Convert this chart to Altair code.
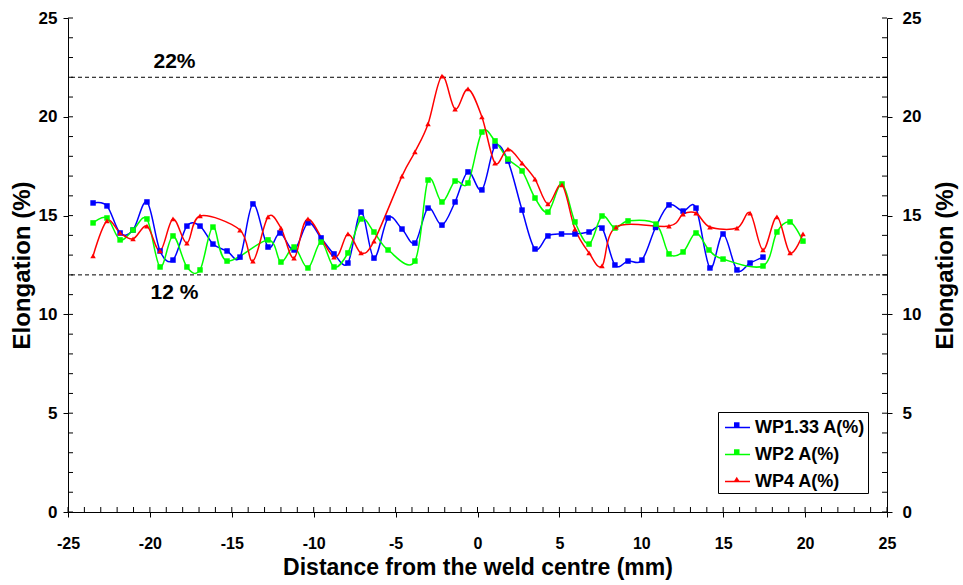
import altair as alt
import pandas as pd

FONT = "Liberation Sans, Arial, sans-serif"

series_names = ["WP1.33 A(%)", "WP2 A(%)", "WP4 A(%)"]
colors = ["#0000FF", "#00FF00", "#FF0000"]
shapes = ["square", "square", "triangle-up"]

blue_x = [-23.47, -22.62, -21.82, -21.03, -20.18, -19.38, -18.59, -17.74, -16.94, -16.15,
          -15.29, -14.50, -13.71, -12.79, -12.06, -11.20, -10.35, -9.55, -8.76, -7.91,
          -7.11, -6.32, -5.46, -4.61, -3.82, -3.02, -2.17, -1.37, -0.58, 0.27,
          1.07, 1.86, 2.72, 3.51, 4.30, 5.13, 5.95, 6.81, 7.60, 8.39,
          9.19, 10.04, 10.87, 11.69, 12.55, 13.34, 14.19, 14.99, 15.84, 16.64, 17.43]
blue_y = [15.64, 15.49, 14.12, 14.27, 15.69, 13.21, 12.75, 14.47, 14.47, 13.56,
          13.21, 12.90, 15.59, 13.41, 14.12, 13.26, 14.63, 13.87, 13.06, 12.60,
          15.18, 12.85, 14.88, 14.32, 13.61, 15.38, 14.52, 15.69, 17.21, 16.30,
          18.52, 17.76, 15.28, 13.31, 13.97, 14.07, 14.07, 14.17, 14.37, 12.50,
          12.70, 12.75, 14.40, 15.54, 15.23, 15.38, 12.35, 14.07, 12.25, 12.60, 12.90]

green_x = [-23.47, -22.62, -21.82, -21.03, -20.18, -19.38, -18.59, -17.74, -16.94, -16.15,
           -15.29, -12.79, -12.00, -11.20, -10.35, -9.55, -8.76, -7.91, -7.11, -6.32,
           -5.46, -3.82, -3.02, -2.17, -1.37, -0.58, 0.27, 1.07, 1.86, 2.72,
           3.51, 4.30, 5.16, 5.95, 6.81, 7.60, 8.39, 9.19, 10.90, 11.69,
           12.55, 13.34, 14.13, 14.99, 17.43, 18.28, 19.08, 19.87]
green_y = [14.63, 14.88, 13.77, 14.27, 14.83, 12.40, 13.97, 12.40, 12.25, 14.42,
           12.70, 13.77, 12.65, 13.41, 12.35, 13.66, 12.40, 13.11, 14.83, 14.17,
           13.26, 12.70, 16.80, 15.69, 16.75, 16.65, 19.23, 18.78, 17.86, 17.26,
           15.89, 15.18, 16.60, 14.68, 13.56, 14.98, 14.37, 14.73, 14.57, 13.06,
           13.16, 14.12, 13.26, 12.80, 12.45, 14.17, 14.68, 13.71]

red_x = [-23.47, -22.62, -21.82, -21.03, -20.18, -19.38, -18.59, -17.74, -16.94, -14.50,
         -13.71, -12.79, -12.00, -11.20, -10.35, -8.76, -7.91, -7.11, -6.32, -4.61,
         -3.82, -3.02, -2.17, -1.37, -0.58, 0.27, 1.07, 1.86, 2.72, 3.51,
         4.30, 5.16, 5.95, 6.81, 7.60, 8.46, 11.69, 12.55, 13.34, 14.19,
         15.84, 16.64, 17.43, 18.28, 19.08, 19.87]
red_y = [12.96, 14.73, 14.12, 13.82, 14.47, 13.21, 14.83, 13.61, 14.98, 14.27,
         12.70, 14.93, 14.37, 12.85, 14.83, 12.90, 14.07, 13.11, 13.71, 17.00,
         18.22, 19.64, 22.06, 20.39, 21.41, 19.99, 17.66, 18.37, 17.66, 16.85,
         15.59, 16.55, 14.32, 13.11, 12.45, 14.42, 14.47, 15.08, 15.13, 14.42,
         14.37, 15.13, 13.26, 14.93, 13.11, 14.07]

x_major = [-25, -20, -15, -10, -5, 0, 5, 10, 15, 20, 25]
y_major = [0, 5, 10, 15, 20, 25]
x_minor = list(range(-25, 26))
y_minor = list(range(0, 26))

ref_levels = [22, 12]
ref_labels = ["22%", "12 %"]
ref_label_x = -18.5

W, H = 819, 494

rows = []
for name, xs, ys in zip(series_names, [blue_x, green_x, red_x], [blue_y, green_y, red_y]):
    for a, b in zip(xs, ys):
        rows.append({"x": a, "y": b, "series": name})
df = pd.DataFrame(rows)

xscale = alt.Scale(domain=[-25, 25], nice=False, zero=False)
yscale = alt.Scale(domain=[0, 25], nice=False, zero=False)

common_axis = dict(
    grid=False, domainColor="black", tickColor="black", labelColor="black",
    titleColor="black", labelFont=FONT, titleFont=FONT, labelFontWeight="bold",
    titleFontWeight="bold", tickSize=5,
    domainWidth=1, tickWidth=1, labelFlush=False, labelOverlap=False,
    labelExpr="'' + datum.value",
)

x_axis = alt.Axis(values=x_major, title="Distance from the weld centre (mm)",
                  labelFontSize=16, titleFontSize=23,
                  labelPadding=18, titlePadding=5, **common_axis)
y_axis_left = alt.Axis(values=y_major, title="Elongation (%)", orient="left",
                       labelFontSize=17, titleFontSize=24,
                       labelPadding=6, titlePadding=4, **common_axis)
y_axis_right = alt.Axis(values=y_major, title="Elongation (%)", orient="right",
                        labelFontSize=17, titleFontSize=24,
                        labelPadding=10, titlePadding=13, titleAngle=270,
                        titleBaseline="top", **common_axis)

LEG_X, LEG_Y = 650, 394
LINE_SYM = 625          # 25 px long line symbol
sym_size = 30

stroke_scale = alt.Scale(domain=series_names, range=colors)
line_legend = alt.Legend(
    orient="none", legendX=LEG_X, legendY=LEG_Y, title=None,
    symbolType="stroke", symbolSize=LINE_SYM, symbolStrokeWidth=1.5, symbolOffset=4,
    labelFont=FONT, labelFontWeight="bold", labelFontSize=18, labelColor="black",
    labelOffset=4, padding=2, rowPadding=4, strokeColor="black", fillColor="white",
    labelLimit=0,
)
marker_legend = alt.Legend(
    orient="none", legendX=LEG_X + 12.5 - (sym_size ** 0.5) / 2 - 6, legendY=LEG_Y + 2,
    title=None,
    symbolSize=sym_size, symbolStrokeWidth=0, symbolOffset=4,
    labelFont=FONT, labelFontWeight="bold", labelFontSize=18, labelOpacity=0,
    labelExpr="' '",
    labelOffset=4, padding=2, rowPadding=9, labelLimit=0,
)

lines = alt.Chart(df).mark_line(interpolate="cardinal", strokeWidth=1.5).encode(
    x=alt.X("x:Q", scale=xscale, axis=x_axis),
    y=alt.Y("y:Q", scale=yscale, axis=y_axis_left),
    stroke=alt.Stroke("series:N", scale=stroke_scale, legend=line_legend),
)

points = alt.Chart(df).mark_point(filled=True, size=sym_size, opacity=1, strokeWidth=0).encode(
    x=alt.X("x:Q", scale=xscale, axis=None),
    y=alt.Y("y:Q", scale=yscale, axis=None),
    fill=alt.Fill("series:N", scale=alt.Scale(domain=series_names, range=colors), legend=marker_legend),
    shape=alt.Shape("series:N", scale=alt.Scale(domain=series_names, range=shapes), legend=marker_legend),
)

ref_df = pd.DataFrame({"level": ref_levels, "label": ref_labels, "lx": [ref_label_x] * 2})
ref_rules = alt.Chart(ref_df).mark_rule(color="black", strokeDash=[4, 3], strokeWidth=1).encode(
    y=alt.Y("level:Q", scale=yscale, axis=None),
)
top_text = alt.Chart(ref_df.iloc[[0]]).mark_text(
    font=FONT, fontWeight="bold", fontSize=21, color="black", dy=-15
).encode(x=alt.X("lx:Q", scale=xscale, axis=None), y=alt.Y("level:Q", scale=yscale, axis=None), text="label:N")
bot_text = alt.Chart(ref_df.iloc[[1]]).mark_text(
    font=FONT, fontWeight="bold", fontSize=21, color="black", dy=18
).encode(x=alt.X("lx:Q", scale=xscale, axis=None), y=alt.Y("level:Q", scale=yscale, axis=None), text="label:N")

xt_df = pd.DataFrame({"t": x_minor})
yt_df = pd.DataFrame({"t": y_minor})
x_ticks = alt.Chart(xt_df).mark_rule(color="black", strokeWidth=1).encode(
    x=alt.X("t:Q", scale=xscale, axis=None), y=alt.value(H), y2=alt.value(H - 5)
)
yl_ticks = alt.Chart(yt_df).mark_rule(color="black", strokeWidth=1).encode(
    y=alt.Y("t:Q", scale=yscale, axis=None), x=alt.value(0), x2=alt.value(5)
)
yr_ticks = alt.Chart(yt_df).mark_rule(color="black", strokeWidth=1).encode(
    y=alt.Y("t:Q", scale=yscale, axis=y_axis_right), x=alt.value(W), x2=alt.value(W - 5)
)

chart = alt.layer(
    ref_rules, top_text, bot_text, x_ticks, yl_ticks, yr_ticks, lines, points
).resolve_axis(x="independent", y="independent").resolve_legend(
    stroke="independent", fill="independent", shape="independent"
).properties(
    width=W, height=H,
    autosize=alt.AutoSizeParams(type="none"),
    padding={"left": 68, "top": 18, "right": 963 - 68 - W, "bottom": 585 - 18 - H},
    background="white",
).configure_view(stroke=None)

chart.save("out.html", embed_options={"renderer": "svg", "actions": False})
